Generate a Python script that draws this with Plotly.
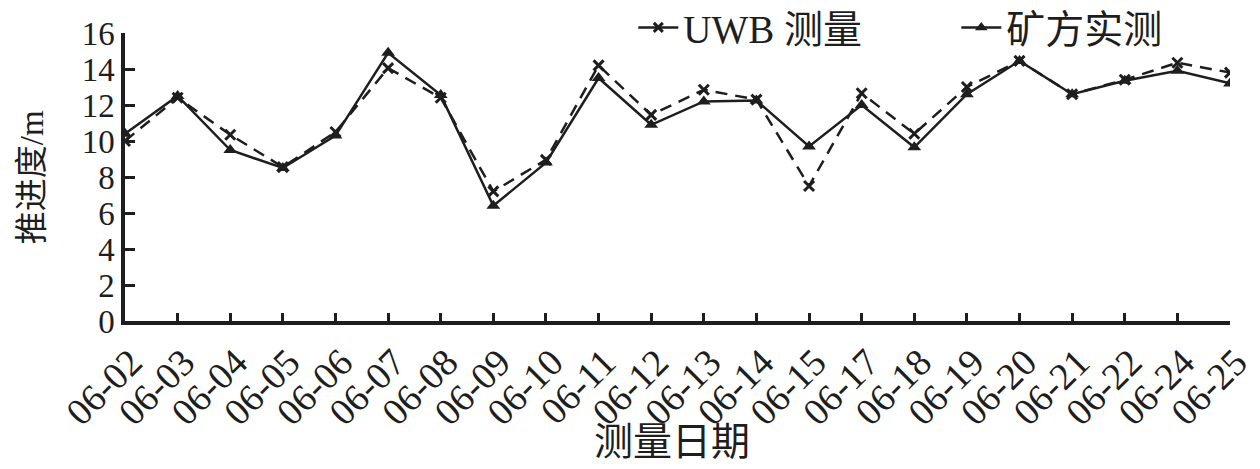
import plotly.graph_objects as go

categories = ["06-02", "06-03", "06-04", "06-05", "06-06", "06-07", "06-08", "06-09",
              "06-10", "06-11", "06-12", "06-13", "06-14", "06-15", "06-17", "06-18",
              "06-19", "06-20", "06-21", "06-22", "06-24", "06-25"]
uwb = [10.0, 12.4, 10.35, 8.55, 10.5, 14.05, 12.4, 7.2, 8.95, 14.2, 11.45, 12.85,
       12.3, 7.5, 12.65, 10.4, 13.0, 14.45, 12.6, 13.4, 14.35, 13.8]
measured = [10.4, 12.5, 9.5, 8.5, 10.3, 14.9, 12.55, 6.4, 8.8, 13.5, 10.9, 12.2,
            12.25, 9.7, 12.0, 9.65, 12.6, 14.45, 12.6, 13.35, 13.9, 13.2]
y_ticks = [0, 2, 4, 6, 8, 10, 12, 14, 16]
x_title = "测量日期"
y_title = "推进度/m"
names = ["UWB 测量", "矿方实测"]

FONT = "Liberation Serif, Times New Roman, Noto Sans CJK SC, serif"
INK = "#1e1e1e"

fig = go.Figure()
fig.add_trace(go.Scatter(
    x=categories, y=uwb, name=names[0], mode="lines+markers", showlegend=False,
    line=dict(color=INK, width=2.5, dash="12px,8px"),
    marker=dict(symbol="x-thin-open", size=10, color=INK, line=dict(width=3, color=INK)),
))
fig.add_trace(go.Scatter(
    x=categories, y=measured, name=names[1], mode="lines+markers", showlegend=False,
    line=dict(color=INK, width=2.5),
    marker=dict(symbol="triangle-up", size=12, color=INK),
))
# legend entries (solid sample lines, as in the reference legend)
fig.add_trace(go.Scatter(
    x=[None], y=[None], name=names[0], mode="lines+markers",
    line=dict(color=INK, width=2.5),
    marker=dict(symbol="x-thin-open", size=9, color=INK, line=dict(width=3, color=INK)),
))
fig.add_trace(go.Scatter(
    x=[None], y=[None], name=names[1], mode="lines+markers",
    line=dict(color=INK, width=2.5),
    marker=dict(symbol="triangle-up", size=11, color=INK),
))

fig.update_layout(
    width=1260, height=469,
    margin=dict(l=117, r=38, t=25, b=156, autoexpand=False),
    plot_bgcolor="white", paper_bgcolor="white",
    font=dict(family=FONT, color=INK, size=34),
    showlegend=True,
    legend=dict(orientation="h", x=0.46, y=1.13, xanchor="left", yanchor="top",
                font=dict(size=39, family=FONT), bgcolor="rgba(0,0,0,0)",
                itemwidth=40, entrywidth=268, entrywidthmode="pixels",
                tracegroupgap=0),
    xaxis=dict(
        type="category", range=[0, 21], showgrid=False, zeroline=False,
        showline=True, linecolor=INK, linewidth=3.5,
        tickmode="array", tickvals=categories, ticktext=categories,
        ticks="inside", ticklen=8, tickwidth=3, tickcolor=INK,
        tickangle=-45, tickfont=dict(size=38, family=FONT), ticklabelshift=6,
    ),
    yaxis=dict(
        range=[0, 16], tickvals=y_ticks, showgrid=False, zeroline=False,
        showline=True, linecolor=INK, linewidth=3.5,
        ticks="inside", ticklen=10, tickwidth=3, tickcolor=INK,
        tickfont=dict(size=33, family=FONT),
    ),
    annotations=[
        dict(text=x_title, xref="paper", yref="paper", x=0.495, y=-0.42,
             xanchor="center", yanchor="middle", showarrow=False,
             font=dict(size=39, family=FONT)),
        dict(text=y_title, xref="paper", yref="paper", x=-0.084, y=0.5,
             xanchor="center", yanchor="middle", showarrow=False, textangle=-90,
             font=dict(size=33, family=FONT)),
    ],
)

fig.write_html("out.html")
